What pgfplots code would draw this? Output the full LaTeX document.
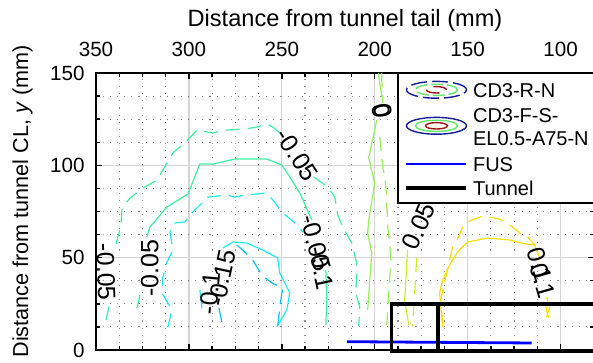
\documentclass[border=0pt]{standalone}
\usepackage{pgfplots}
\pgfplotsset{compat=1.18}
\usepackage{fontspec}
\setmainfont{Liberation Sans}

% contour level colours
\definecolor{cm15}{RGB}{0,198,250}
\definecolor{cm10}{RGB}{30,236,240}
\definecolor{cm05}{RGB}{60,240,160}
\definecolor{cz}{RGB}{150,238,90}
\definecolor{cp05}{RGB}{205,240,40}
\definecolor{cp10}{RGB}{255,222,0}
% legend icon colours
\definecolor{inavy}{RGB}{20,30,150}
\definecolor{igreen}{RGB}{100,230,110}
\definecolor{ired}{RGB}{160,20,20}

\pgfplotsset{
  cl/.style={line width=0.6pt, forget plot},
  dl/.style={cl, dash pattern=on 7pt off 4pt},
}
\tikzset{
  clab/.style={font=\fontsize{12.5}{14}\selectfont, inner sep=0pt, text=black},
  ltxt/.style={anchor=base west, inner sep=0pt, font=\fontsize{10}{12}\selectfont},
}

\begin{document}
\begin{tikzpicture}
\useasboundingbox (-48pt,-6.5pt) rectangle (248.5pt,175pt);
\begin{scope}
\clip (-48pt,-6.5pt) rectangle (248.5pt,175pt);
\begin{axis}[
  at={(0pt,0pt)}, anchor=south west,
  scale only axis, width=249pt, height=138.5pt,
  xmin=82, xmax=350, ymin=0, ymax=150, x dir=reverse,
  clip=false,
  xtick={100,150,...,350}, ytick={0,50,100,150},
  minor tick num=3,
  xticklabel pos=right,
  grid=both,
  major grid style={line width=0.6pt, draw=black!17},
  minor grid style={line width=0.55pt, draw=black!45, dash pattern=on 0.55pt off 3pt},
  axis line style={line width=1.1pt},
  major tick length=3pt, minor tick length=1.8pt,
  every tick/.style={black, line width=0.7pt},
  tick label style={font=\fontsize{10.3}{12}\selectfont},
  /pgf/number format/assume math mode=true,
  xticklabel style={yshift=4.5pt},
  yticklabel style={xshift=-2.2pt},
  xlabel={Distance from tunnel tail (mm)},
  xlabel style={font=\fontsize{11.8}{14}\selectfont, at={(axis description cs:0.5,1)}, anchor=base, yshift=23pt},
  ylabel={Distance from tunnel CL, \textit{y} (mm)},
  ylabel style={font=\fontsize{10.8}{13}\selectfont, at={(axis description cs:-0.1365,0.536)}, anchor=base},
]

% ---- level -0.05 ----
\addplot[cm05, dl] coordinates {(344.6,16.2) (342.5,26.0)};
\addplot[cm05, dl] coordinates {(339.2,57.4) (336.6,67.1) (336.0,76.9) (331.7,82.3) (323.7,88.3) (317.2,92.0) (311.8,101.2) (308.6,106.7) (301.1,113.2) (295.7,119.1) (287.1,117.5) (279.6,119.1) (269.9,119.7) (263.4,120.7) (258.1,122.4) (254.8,120.7) (251.1,117.5)};
\addplot[cm05, dl] coordinates {(232.8,93.7) (225.3,88.3) (221.5,82.8) (219.9,73.1) (217.2,66.6) (212.4,57.9) (209.7,47.1) (209.7,39.5) (210.2,30.9) (208.1,23.3) (208.6,13.0)};
\addplot[cm05, cl] coordinates {(328.0,22.7) (326.3,29.8)};
\addplot[cm05, cl] coordinates {(322.6,61.2) (321.0,66.6) (311.8,77.4) (300.5,84.5) (294.1,100.7) (287.1,100.7) (275.3,103.4) (263.4,103.4) (258.1,103.4) (250.0,100.2) (245.7,93.7) (240.3,85.0) (233.9,70.4)};
\addplot[cm05, cl] coordinates {(226.3,43.3) (225.8,27.1) (226.3,13.5)};

% ---- level -0.1 ----
\addplot[cm10, dl] coordinates {(311.3,12.5) (309.1,21.7) (314.5,30.9) (314.0,39.5) (311.8,47.6) (308.6,54.1) (310.2,63.9) (307.5,68.8) (302.2,69.3) (298.4,74.2) (294.1,78.5) (289.8,82.8) (279.6,83.9) (275.3,82.8) (269.9,83.9) (263.4,84.5) (258.1,85.0) (254.8,81.2) (250.0,74.7) (243.0,68.8) (238.7,63.9)};
\addplot[cm10, cl] coordinates {(293.0,22.7) (294.1,32.5)};
\addplot[cm10, cl] coordinates {(281.7,55.2) (276.3,58.5) (268.8,57.9) (260.2,54.1) (252.2,49.8) (251.1,41.7) (247.3,34.1) (245.7,30.9) (247.3,21.7) (252.7,12.5)};

% ---- level -0.15 ----
\addplot[cm15, dl] coordinates {(282.3,15.2) (284.4,25.4)};
\addplot[cm15, dl] coordinates {(274.2,56.8) (271.0,54.1) (265.6,48.7) (260.8,40.6) (255.4,36.3) (249.5,33.6) (251.1,23.3) (252.2,12.5)};

% ---- level 0 ----
\addplot[cz, cl] coordinates {(198.0,150) (197.8,147.8) (196.2,137.0)};
\addplot[cz, cl] coordinates {(198.9,124.5) (203.2,104.0) (200.0,90.4) (203.2,70.4) (203.8,63.3) (201.6,52.5) (203.8,21.7)};
\addplot[cz, dl] coordinates {(196.2,150) (196.2,146.2) (195.7,133.7)};
\addplot[cz, dl] coordinates {(197.3,115.3) (195.7,99.1) (194.6,93.7) (193.5,82.8) (193.5,77.4) (193.0,70.4) (193.0,66.6) (191.9,57.9) (191.4,48.7) (191.9,39.5) (193.5,13.5)};

% ---- level 0.05 ----
\addplot[cp05, cl] coordinates {(182.3,54.1) (183.9,27.1) (181.7,13.5)};
\addplot[cp05, dl] coordinates {(177.4,49.8) (178.5,30.9) (179.6,13.0)};

% ---- level 0.1 ----
\addplot[cp10, cl] coordinates {(163.4,12.5) (165.1,30.9) (163.4,37.9) (159.7,46.0) (155.4,53.1) (150.0,58.5) (139.2,60.6) (127.4,59.6) (121.0,57.9) (114.0,56.8) (111.3,50.4)};
\addplot[cp10, cl] coordinates {(107.5,28.7) (105.9,22.7) (107.5,17.9)};
\addplot[cp10, dl] coordinates {(163.4,13.5) (164.5,27.1) (162.4,36.8) (158.1,55.8) (154.3,62.3) (152.7,66.6) (150.5,68.8) (147.8,70.4) (141.9,72.5) (132.8,70.9) (125.8,66.6) (122.0,63.3) (117.7,61.2) (114.0,56.8)};
\addplot[cp10, dl] coordinates {(108.1,24.4) (106.5,17.3)};

% ---- contour labels ----
\node[clab, rotate=-88] at (axis cs:344.6,42.2) {-0.05};
\node[clab, rotate=90] at (axis cs:321.0,44.4) {-0.05};
\node[clab, rotate=85] at (axis cs:288.7,30.9) {-0.1};
\node[clab, rotate=78] at (axis cs:282.3,39.0) {-0.15};
\node[clab, rotate=-57] at (axis cs:241.9,105.6) {-0.05};
\node[clab, rotate=-75] at (axis cs:231.7,57.9) {-0.05};
\node[clab, rotate=-78] at (axis cs:228.5,44.4) {-0.1};
\node[clab, rotate=-80] at (axis cs:196.3,129.4) {0};
\node[clab, rotate=-80] at (axis cs:195.4,129.4) {0};
\node[clab, rotate=66] at (axis cs:176.4,67.1) {0.05};
\node[clab, rotate=-74] at (axis cs:111.3,46.0) {0.1};
\node[clab, rotate=-74] at (axis cs:109.7,37.4) {0.1};

% ---- FUS and tunnel outline ----
\addplot[blue, line width=1.4pt, forget plot] coordinates {(215,4.5) (115.6,3.8)};
\addplot[black, line width=1.8pt, forget plot] coordinates {(70,25) (191,25) (191,-0.4) (70,-0.4)};
\addplot[black, line width=1.8pt, forget plot] coordinates {(166,25) (166,-0.4)};

% ---- legend box (top right corner of the axis) ----
\coordinate (L) at (axis description cs:0.6064,1);
\fill[white] (L) rectangle ([xshift=110pt,yshift=-65pt]L);
\draw[black, line width=0.8pt] ([xshift=110pt]L) -- (L) -- ([yshift=-65pt]L) -- ([xshift=110pt,yshift=-65pt]L);
% CD3-R-N: dashed ellipses
\draw[inavy, line width=0.7pt, dash pattern=on 8pt off 2.5pt] ([xshift=19.25pt,yshift=-8.4pt]L) ellipse [x radius=15pt, y radius=4.2pt];
\draw[igreen, line width=0.7pt, dash pattern=on 6pt off 2pt] ([xshift=19.25pt,yshift=-8.4pt]L) ellipse [x radius=10.5pt, y radius=2.8pt];
\draw[ired, line width=0.7pt, dash pattern=on 7pt off 4pt] ([xshift=19.25pt,yshift=-8.4pt]L) ellipse [x radius=5pt, y radius=1.6pt];
\node[ltxt] at ([xshift=37.35pt,yshift=-12.45pt]L) {CD3-R-N};
% CD3-F-S-EL0.5-A75-N: solid ellipses
\draw[inavy, line width=0.7pt] ([xshift=19.25pt,yshift=-26.4pt]L) ellipse [x radius=15pt, y radius=4.2pt];
\draw[igreen, line width=0.7pt] ([xshift=19.25pt,yshift=-26.4pt]L) ellipse [x radius=10.5pt, y radius=2.8pt];
\draw[ired, line width=0.7pt] ([xshift=19.25pt,yshift=-26.4pt]L) ellipse [x radius=5.5pt, y radius=1.6pt];
\node[ltxt] at ([xshift=37.35pt,yshift=-24.6pt]L) {CD3-F-S-};
\node[ltxt] at ([xshift=37.35pt,yshift=-36.1pt]L) {EL0.5-A75-N};
% FUS
\draw[blue, line width=1.4pt] ([xshift=4.25pt,yshift=-45.5pt]L) -- ([xshift=34.25pt,yshift=-45.5pt]L);
\node[ltxt] at ([xshift=37.35pt,yshift=-49.1pt]L) {FUS};
% Tunnel
\draw[black, line width=1.8pt] ([xshift=4.25pt,yshift=-57.5pt]L) -- ([xshift=34.25pt,yshift=-57.5pt]L);
\node[ltxt] at ([xshift=37.35pt,yshift=-61.1pt]L) {Tunnel};
\end{axis}
\end{scope}
\end{tikzpicture}
\end{document}
